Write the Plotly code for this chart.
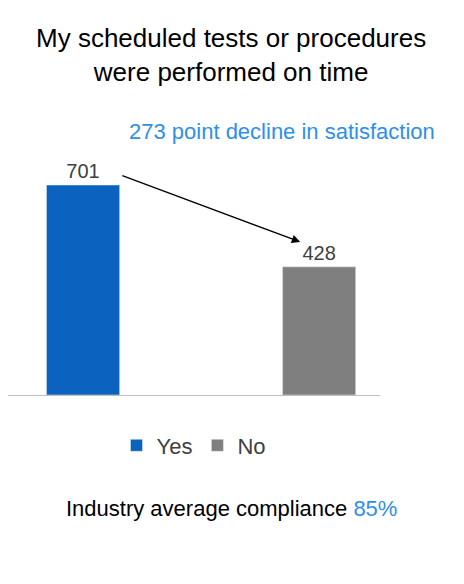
import plotly.graph_objects as go

categories = ["Yes", "No"]
values = [701, 428]
colors = ["#0B62BF", "#7F7F7F"]

fig = go.Figure()
for c, v, col in zip(categories, values, colors):
    fig.add_trace(go.Bar(x=[c], y=[v], name=c, marker_color=col, width=0.31,
                         text=[str(v)], textposition="outside",
                         textfont=dict(size=20, color="#404040"), cliponaxis=False))

fig.update_layout(
    width=464, height=584, plot_bgcolor="white", paper_bgcolor="white",
    font=dict(family="Liberation Sans, Arial", color="#404040"),
    margin=dict(l=0, r=92, t=92, b=197),
    barmode="overlay",
    showlegend=True,
    legend=dict(orientation="h", x=0.5, xanchor="center", y=-0.1, yanchor="top",
                font=dict(size=22, color="#404040"), itemwidth=30, traceorder="normal"),
    xaxis=dict(type="category", range=[-0.318, 1.258], showticklabels=False,
               showline=True, linecolor="#BFBFBF", linewidth=1, showgrid=False),
    yaxis=dict(range=[0, 985], visible=False),
)

fig.add_annotation(xref="paper", yref="paper", x=0.6, y=(584-55-189)/295, xanchor="center",
                   yanchor="middle", showarrow=False,
                   text="My scheduled tests or procedures<br>were performed on time",
                   font=dict(size=26, color="black"))
fig.add_annotation(xref="paper", yref="y", x=1.153, y=(395-131)/0.2996, xanchor="right",
                   showarrow=False, text="273 point decline in satisfaction",
                   font=dict(size=22, color="#2E8FEA"))
fig.add_annotation(xref="x", yref="y", x=0.92, y=511, ax=0.16, ay=734,
                   axref="x", ayref="y", showarrow=True, arrowhead=2,
                   arrowsize=1.3, arrowwidth=1.3, arrowcolor="black", text="")
fig.add_annotation(xref="paper", yref="paper", x=0.6, y=-(523-395)/295, xanchor="center",
                   showarrow=False,
                   text="Industry average compliance <span style='color:#2E8FEA'>85%</span>",
                   font=dict(size=22, color="black"))

fig.write_html("out.html")
